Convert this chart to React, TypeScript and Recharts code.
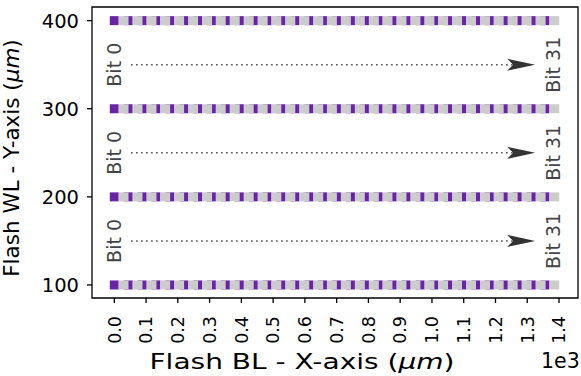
import React from 'react';
import {
  ReferenceArea,
  ReferenceDot,
  ReferenceLine,
  Scatter,
  ScatterChart,
  XAxis,
  YAxis,
} from 'recharts';

// bit positions along each word line (purple) and the gaps after them (gray)
const bitX = [
  0, 44, 88, 131, 175, 219, 263, 306, 350, 394, 438, 481, 525, 569, 613, 656,
  700, 744, 788, 831, 875, 919, 963, 1006, 1050, 1094, 1138, 1181, 1225, 1269,
  1313, 1356,
];
const gapX = [
  29, 73, 117, 160, 204, 248, 292, 335, 379, 423, 467, 510, 554, 598, 642, 685,
  729, 773, 817, 860, 904, 948, 992, 1035, 1079, 1123, 1167, 1210, 1254, 1298,
  1342, 1385,
];
const rowY = [100, 200, 300, 400];
const arrowY = [150, 250, 350];
const xTicks = [0, 100, 200, 300, 400, 500, 600, 700, 800, 900, 1000, 1100, 1200, 1300, 1400];
const yTicks = [100, 200, 300, 400];

const bitPoints = rowY.flatMap((y) => bitX.map((x) => ({ x, y })));
const gapPoints = rowY.flatMap((y) => gapX.map((x) => ({ x, y })));

const FONT = 'DejaVu Sans, sans-serif';

const PurpleSquare = (p: any) => (
  <rect x={p.cx - 4.5} y={p.cy - 4.5} width={9} height={9} fill="#6a22a6" />
);
const GraySquare = (p: any) => (
  <rect x={p.cx - 5} y={p.cy - 4.5} width={10} height={9} fill="#cccccc" />
);

const XTick = (p: any) => {
  const fs = 17.5;
  const x = p.x + fs * 0.36;
  return (
    <text
      x={x}
      y={316}
      transform={`rotate(-90 ${x} 316)`}
      textAnchor="end"
      fontSize={fs}
      fontFamily={FONT}
      fill="#000"
    >
      {(p.payload.value / 1000).toFixed(1)}
    </text>
  );
};

const YTick = (p: any) => (
  <text
    x={79}
    y={p.y + 7}
    textAnchor="end"
    fontSize={19.5}
    fontFamily={FONT}
    fill="#000"
  >
    {p.payload.value}
  </text>
);

const bitLabel = (txt: string) => (p: any) => {
  const fs = 19;
  const x = p.cx + fs * 0.36;
  return (
    <text
      x={x}
      y={p.cy}
      transform={`rotate(-90 ${x} ${p.cy})`}
      textAnchor="middle"
      fontSize={fs}
      fontFamily={FONT}
      fill="#444"
    >
      {txt}
    </text>
  );
};

const ArrowHead = (p: any) => (
  <polygon
    points={`${p.cx},${p.cy} ${p.cx - 28},${p.cy - 6} ${p.cx - 22},${p.cy} ${p.cx - 28},${p.cy + 6}`}
    fill="#333"
  />
);

export default function App() {
  return (
    <div style={{ position: 'absolute', left: 0, top: 0 }}>
      <ScatterChart
        width={581}
        height={376}
        margin={{ top: 7, right: 3, left: 0, bottom: 0 }}
      >
        <XAxis
          type="number"
          dataKey="x"
          domain={[-70.2, 1459.8]}
          ticks={xTicks}
          interval={0}
          allowDataOverflow
          height={78}
          tick={<XTick />}
          tickSize={5}
          tickLine={{ stroke: '#000', strokeWidth: 1.3 }}
          axisLine={false}
          label={{
            content: () => (
              <text
                x={302}
                y={369}
                textAnchor="middle"
                fontSize={22}
                fontFamily={FONT}
                fill="#000"
                textLength={305}
                lengthAdjust="spacingAndGlyphs"
              >
                Flash BL - X-axis (<tspan fontStyle="italic">μm</tspan>)
              </text>
            ),
          }}
        />
        <YAxis
          type="number"
          dataKey="y"
          domain={[85.2, 415.5]}
          ticks={yTicks}
          allowDataOverflow
          width={92}
          tick={<YTick />}
          tickSize={5}
          tickLine={{ stroke: '#000', strokeWidth: 1.3 }}
          axisLine={false}
          label={{
            content: () => (
              <text
                x={19}
                y={158}
                transform="rotate(-90 19 158)"
                textAnchor="middle"
                fontSize={21.5}
                fontFamily={FONT}
                fill="#000"
              >
                Flash WL - Y-axis (<tspan fontStyle="italic">μm</tspan>)
              </text>
            ),
          }}
        />
        <ReferenceArea
          x1={-70.2}
          x2={1459.8}
          y1={85.2}
          y2={415.5}
          fill="none"
          fillOpacity={0}
          stroke="#000"
          strokeWidth={1.3}
          ifOverflow="visible"
        />
        <Scatter data={bitPoints} shape={PurpleSquare} isAnimationActive={false} />
        <Scatter data={gapPoints} shape={GraySquare} isAnimationActive={false} />
        {arrowY.map((y) => (
          <ReferenceLine
            key={'l' + y}
            segment={[{ x: 53, y }, { x: 1290, y }]}
            stroke="#444"
            strokeWidth={1.5}
            strokeDasharray="1.5 3.5"
            ifOverflow="visible"
          />
        ))}
        {arrowY.map((y) => (
          <ReferenceDot key={'a' + y} x={1325} y={y} r={1} shape={ArrowHead} ifOverflow="visible" />
        ))}
        {arrowY.map((y) => (
          <ReferenceDot key={'b0' + y} x={0} y={y} r={1} shape={bitLabel('Bit 0')} ifOverflow="visible" />
        ))}
        {arrowY.map((y) => (
          <ReferenceDot key={'b31' + y} x={1381} y={y} r={1} shape={bitLabel('Bit 31')} ifOverflow="visible" />
        ))}
      </ScatterChart>
      <div
        style={{
          position: 'absolute',
          left: 541,
          top: 349,
          fontSize: 20.5,
          fontFamily: FONT,
          lineHeight: '24px',
          color: '#000',
        }}
      >
        1e3
      </div>
    </div>
  );
}
